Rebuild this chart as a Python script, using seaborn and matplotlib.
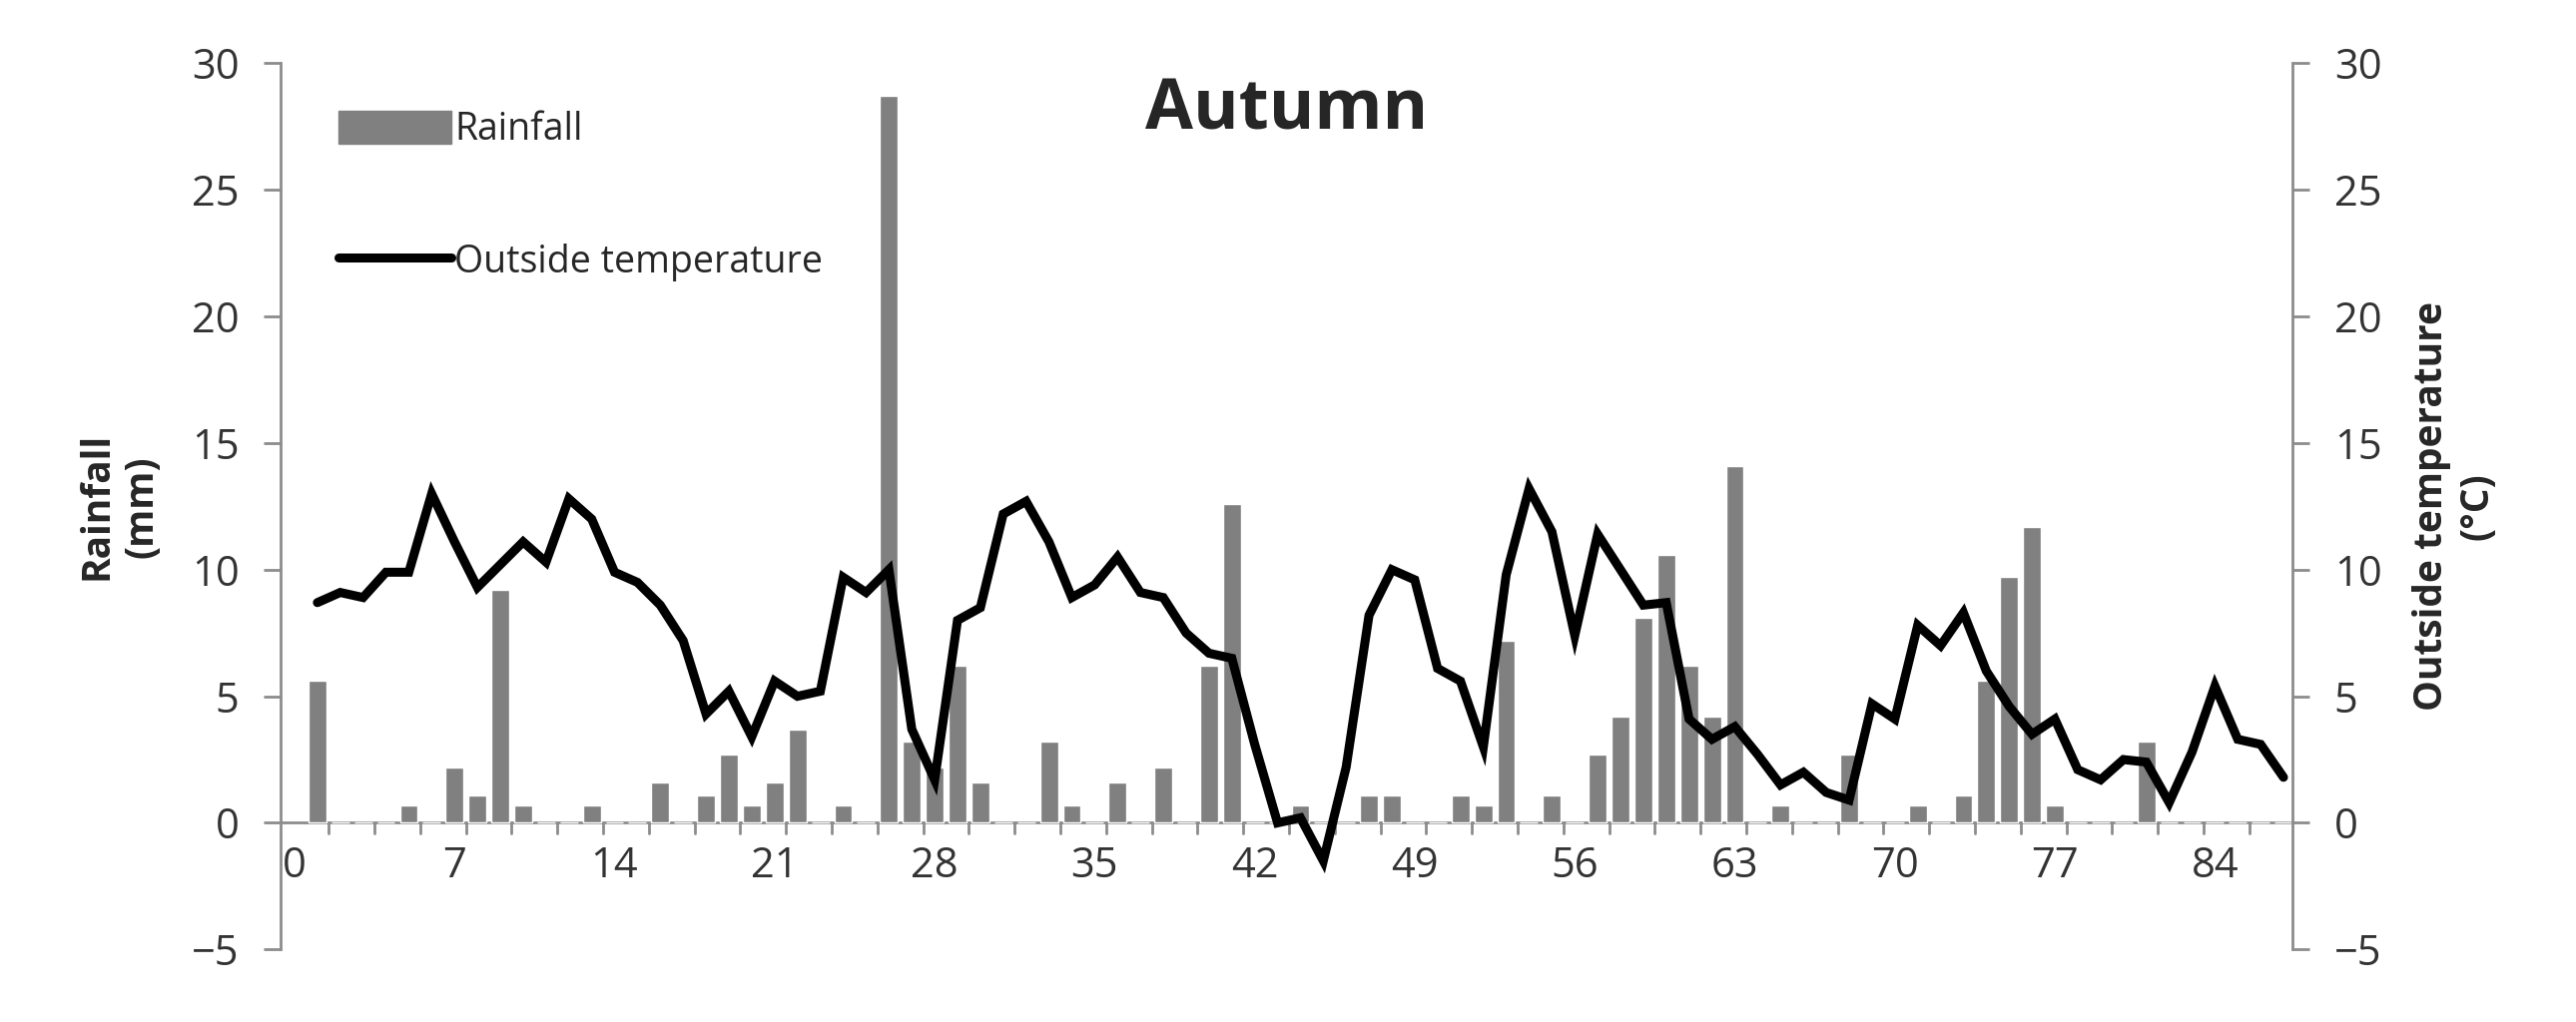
import numpy as np
import pandas as pd
import seaborn as sns
import matplotlib
matplotlib.use("Agg")
import matplotlib.pyplot as plt
from matplotlib.patches import Patch
from matplotlib.lines import Line2D

days = list(range(1, 88))

# rainfall (mm) for the days that had any
rain_days = [1, 5, 7, 8, 9, 10, 13, 16, 18, 19, 20, 21, 22, 24, 26, 27, 28, 29, 30,
             33, 34, 36, 38, 40, 41, 44, 47, 48, 51, 52, 53, 55, 57, 58, 59, 60,
             61, 62, 63, 65, 68, 71, 73, 74, 75, 76, 77, 81]
rain_vals = [5.6, 0.7, 2.2, 1.1, 9.2, 0.7, 0.7, 1.6, 1.1, 2.7, 0.7, 1.6, 3.7, 0.7, 28.7,
             3.2, 2.2, 6.2, 1.6, 3.2, 0.7, 1.6, 2.2, 6.2, 12.6, 0.7, 1.1, 1.1, 1.1, 0.7,
             7.2, 1.1, 2.7, 4.2, 8.1, 10.6, 6.2, 4.2, 14.1, 0.7, 2.7, 0.7, 1.1, 5.6,
             9.7, 11.7, 0.7, 3.2]

temp = [8.7, 9.1, 8.9, 9.9, 9.9, 13.0, 11.1, 9.3, 10.2, 11.1, 10.3, 12.8, 12.0, 9.9,
        9.5, 8.6, 7.2, 4.3, 5.2, 3.4, 5.6, 5.0, 5.2, 9.7, 9.1, 10.0, 3.7, 1.7, 8.0,
        8.5, 12.2, 12.7, 11.1, 8.9, 9.4, 10.5, 9.1, 8.9, 7.5, 6.7, 6.5, 3.1, 0.0,
        0.2, -1.5, 2.2, 8.2, 10.0, 9.6, 6.1, 5.6, 3.0, 9.8, 13.2, 11.5, 7.4, 11.4,
        10.0, 8.6, 8.7, 4.1, 3.3, 3.8, 2.7, 1.5, 2.0, 1.2, 0.9, 4.7, 4.1, 7.8, 7.0,
        8.3, 6.0, 4.6, 3.5, 4.1, 2.1, 1.7, 2.5, 2.4, 0.8, 2.8, 5.4, 3.3, 3.1, 1.8]

rain = dict(zip(rain_days, rain_vals))
df = pd.DataFrame({"day": days,
                   "rain": [rain.get(d, 0.0) for d in days],
                   "temp": temp})

sns.set_style("white")
plt.rcParams['font.family'] = ['Open Sans', 'DejaVu Sans']

grey = "#808080"
axis_grey = "#8c8c8c"
txt = "#333333"

fig = plt.figure(figsize=(25.8, 10.24), dpi=100)
ax = fig.add_axes([0.109, 0.071, 0.781, 0.867])

ax.bar(df.day, df.rain, width=0.78, color=grey, zorder=2)
ax2 = ax.twinx()
sns.lineplot(data=df, x="day", y="temp", ax=ax2, color="black", lw=6.5,
             solid_joinstyle="miter", zorder=3)

for a in (ax, ax2):
    a.set_ylim(-5, 30)
    a.set_xlim(-0.6, 87.4)
    a.set_yticks(range(-5, 31, 5))
    a.spines['top'].set_visible(False)
    a.spines['bottom'].set_visible(False)
    a.tick_params(axis='y', labelsize=30, colors=txt, length=12, width=2,
                  color=axis_grey, direction='out', pad=18)
ax.spines['left'].set_color(axis_grey)
ax.spines['left'].set_linewidth(2)
ax.spines['right'].set_visible(False)
ax2.spines['right'].set_color(axis_grey)
ax2.spines['right'].set_linewidth(2)
ax2.spines['left'].set_visible(False)

# x axis along zero line
ax.axhline(0, color=axis_grey, lw=2, zorder=1)
ax.set_xticks(range(0, 85, 7))
ax.set_xticklabels([])
for x in range(0, 85, 7):
    ax.text(x, -0.9, str(x), ha='center', va='top', fontsize=30, color=txt)
for x in np.arange(1.5, 87, 2):
    ax.plot([x, x], [0, -0.4], color=axis_grey, lw=2, zorder=1)
ax.tick_params(axis='x', length=0)
ax2.set_xticks([])
ax.set_xlabel("")
ax2.set_xlabel("")

ax.set_ylabel("Rainfall\n(mm)", fontsize=28, fontweight='bold', labelpad=22)
ax2.set_ylabel("Outside temperature\n(°C)", fontsize=28, fontweight='bold', labelpad=22)

ax.text(0.5, 0.985, "Autumn", transform=ax.transAxes, ha='center', va='top',
        fontsize=50, fontweight='bold')
ax.set_zorder(ax2.get_zorder() - 1)
ax.patch.set_visible(False)
ax2.patch.set_visible(False)

handles = [Patch(color=grey), Line2D([0], [0], color="black", lw=6.5)]
ax2.legend(handles, ["Rainfall", "Outside temperature"], loc='upper left',
           bbox_to_anchor=(0.012, 0.985), frameon=False, fontsize=27,
           handlelength=3.0, handleheight=1.0, handletextpad=0.1, labelspacing=2.5)

fig.savefig("out.png", dpi=100)
